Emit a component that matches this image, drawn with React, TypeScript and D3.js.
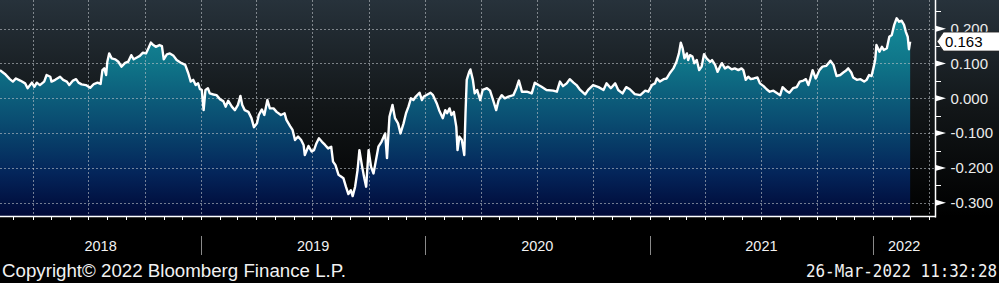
import React from "react";
import * as d3 from "d3";

// ---- data ----
const startDate = new Date(2018, 1, 7);
const endDate = new Date(2022, 3, 11, 12);

const dayOffsets = [0,8,16,21,26,33,41,45,52,56,60,65,72,76,82,84,90,98,103,109,113,119,124,128,133,140,147,153,159,164,167,170,173,175,178,182,188,193,198,204,209,214,218,224,228,233,238,242,246,250,254,260,264,267,272,277,283,288,296,302,307,311,315,319,323,326,329,332,335,339,342,348,353,359,364,368,372,378,383,388,392,395,399,405,410,414,419,422,427,431,436,440,446,451,458,464,467,473,477,481,486,491,495,497,503,508,512,516,520,525,530,535,540,543,547,552,556,560,564,568,572,575,579,583,586,590,594,597,601,605,609,611,617,622,628,631,635,640,644,649,653,658,662,666,670,674,678,684,688,691,697,702,706,712,716,722,726,729,733,736,740,744,746,749,753,757,759,761,765,767,771,774,778,783,787,794,799,804,809,813,818,823,829,837,842,846,851,859,867,872,878,883,891,902,908,913,918,924,929,935,940,946,954,959,967,976,984,989,996,1003,1008,1015,1021,1027,1035,1044,1052,1057,1063,1068,1071,1076,1082,1087,1092,1098,1103,1107,1110,1113,1116,1120,1122,1125,1129,1132,1136,1140,1144,1148,1152,1158,1161,1166,1170,1174,1177,1182,1187,1193,1198,1204,1209,1212,1216,1220,1224,1229,1235,1239,1245,1250,1255,1261,1266,1272,1276,1282,1287,1293,1299,1304,1310,1314,1318,1321,1325,1330,1336,1341,1347,1351,1354,1359,1364,1370,1375,1379,1383,1388,1391,1397,1403,1409,1413,1417,1421,1424,1427,1429,1434,1438,1441,1446,1450,1454,1458,1462,1466,1470,1474,1477,1480,1482,1484];

const values = [0.081,0.070,0.055,0.048,0.057,0.051,0.043,0.029,0.045,0.033,0.045,0.038,0.048,0.067,0.062,0.048,0.053,0.062,0.053,0.048,0.038,0.051,0.055,0.045,0.040,0.038,0.030,0.041,0.045,0.041,0.081,0.086,0.067,0.105,0.129,0.115,0.112,0.105,0.091,0.102,0.105,0.124,0.112,0.118,0.122,0.131,0.129,0.144,0.160,0.153,0.148,0.153,0.150,0.112,0.126,0.129,0.122,0.110,0.101,0.096,0.072,0.048,0.053,0.038,0.043,0.026,0.024,-0.034,0.024,0.029,0.014,0.011,0.009,-0.003,-0.008,-0.024,-0.007,-0.024,-0.034,-0.019,0.007,-0.019,-0.034,-0.039,-0.057,-0.083,-0.072,-0.048,-0.032,-0.048,-0.005,-0.029,-0.029,-0.039,-0.048,-0.043,-0.062,-0.080,-0.091,-0.120,-0.110,-0.120,-0.134,-0.163,-0.137,-0.153,-0.149,-0.129,-0.115,-0.125,-0.134,-0.144,-0.139,-0.182,-0.192,-0.220,-0.225,-0.230,-0.254,-0.275,-0.264,-0.281,-0.254,-0.206,-0.149,-0.192,-0.230,-0.254,-0.149,-0.197,-0.216,-0.197,-0.139,-0.125,-0.101,-0.172,-0.053,-0.019,-0.057,-0.072,-0.101,-0.072,-0.043,-0.024,0.000,-0.005,0.005,0.016,-0.005,0.005,0.011,0.016,0.009,-0.014,-0.034,-0.057,-0.034,-0.043,-0.029,-0.048,-0.039,-0.082,-0.149,-0.110,-0.120,-0.163,-0.043,0.053,0.076,0.083,0.053,0.014,0.024,-0.005,0.024,0.029,0.022,-0.005,-0.034,-0.005,0.009,0.000,0.005,0.009,0.029,0.051,0.019,0.019,0.014,0.045,0.038,0.033,0.024,0.022,0.019,0.048,0.035,0.043,0.055,0.045,0.038,0.024,0.011,0.024,0.038,0.032,0.024,0.043,0.029,0.043,0.024,0.014,0.032,0.026,0.012,0.009,0.022,0.019,0.038,0.043,0.057,0.048,0.055,0.057,0.072,0.086,0.105,0.129,0.160,0.144,0.115,0.129,0.110,0.124,0.120,0.101,0.110,0.081,0.091,0.127,0.115,0.105,0.110,0.096,0.076,0.091,0.101,0.086,0.091,0.083,0.086,0.081,0.086,0.081,0.053,0.062,0.055,0.057,0.060,0.043,0.035,0.026,0.019,0.022,0.016,0.009,0.032,0.022,0.016,0.029,0.032,0.048,0.051,0.055,0.038,0.055,0.081,0.057,0.081,0.091,0.093,0.101,0.108,0.096,0.064,0.067,0.074,0.079,0.086,0.074,0.060,0.053,0.055,0.048,0.053,0.067,0.064,0.086,0.110,0.153,0.134,0.148,0.139,0.144,0.177,0.182,0.211,0.230,0.220,0.223,0.211,0.191,0.177,0.141,0.163];

const yTicks = [-0.3, -0.2, -0.1, 0, 0.1, 0.2];
const yMinorTicks = [-0.25, -0.15, -0.05, 0.05, 0.15, 0.25];
const yearLabels = ["2018", "2019", "2020", "2021", "2022"];
const copyrightText = "Copyright\u00A9 2022 Bloomberg Finance L.P.";
const stampText = "26-Mar-2022 11:32:28";

export default function App() {
  const W = 999;
  const H = 283;
  const plotRight = 935;
  const plotBottom = 216.5;

  const x = d3.scaleTime().domain([startDate, endDate]).range([0, plotRight]);
  const y = d3.scaleLinear().domain([-0.3, 0.2]).range([202.7, 28.7]);

  const n = Math.min(dayOffsets.length, values.length);
  const data = d3.range(n).map((i) => ({
    date: d3.timeDay.offset(startDate, dayOffsets[i]),
    value: values[i],
  }));

  const area = d3
    .area<{ date: Date; value: number }>()
    .x((d) => x(d.date))
    .y0(plotBottom)
    .y1((d) => y(d.value));
  const line = d3
    .line<{ date: Date; value: number }>()
    .x((d) => x(d.date))
    .y((d) => y(d.value));

  const quarters = d3.timeMonth.every(3)!.range(startDate, endDate);
  const months = d3.timeMonth.range(startDate, endDate);
  const years = d3.timeYear.range(startDate, endDate);

  const last = data[data.length - 1];
  const cy = y(last.value);

  const yearSpans = yearLabels.map((lbl) => {
    const yr = +lbl;
    const a = Math.max(0, x(new Date(yr, 0, 1)));
    const b = Math.min(plotRight, x(new Date(yr + 1, 0, 1)));
    return { lbl, cx: (a + b) / 2 };
  });

  const labelFont = "'Liberation Sans', Arial, sans-serif";

  return (
    <div style={{ position: "fixed", left: 0, top: 0, width: W, height: H }}>
      <svg width={W} height={H} style={{ display: "block" }}>
        <defs>
          <linearGradient id="bg" gradientUnits="userSpaceOnUse" x1="0" y1="0" x2="0" y2={plotBottom}>
            <stop offset="0" stopColor="#27323b" />
            <stop offset="0.5" stopColor="#121618" />
            <stop offset="1" stopColor="#000000" />
          </linearGradient>
          <linearGradient id="fill" gradientUnits="userSpaceOnUse" x1="0" y1="0" x2="0" y2={plotBottom}>
            <stop offset="0" stopColor="#1794a0" />
            <stop offset="0.3" stopColor="#0f7488" />
            <stop offset="0.55" stopColor="#0a4e72" />
            <stop offset="0.8" stopColor="#04255a" />
            <stop offset="1" stopColor="#000836" />
          </linearGradient>
        </defs>

        <rect x={0} y={0} width={W} height={H} fill="#000" />
        <rect x={0} y={0} width={W} height={plotBottom} fill="url(#bg)" />

        <path d={area(data) || ""} fill="url(#fill)" />

        {/* grid */}
        <g stroke="rgba(190,195,200,0.6)" strokeWidth={1} strokeDasharray="2,2">
          {yTicks.map((t) => (
            <line key={"h" + t} x1={0} x2={plotRight} y1={Math.round(y(t)) + 0.5} y2={Math.round(y(t)) + 0.5} />
          ))}
          {quarters.map((q) => (
            <line key={"v" + +q} x1={Math.round(x(q)) + 0.5} x2={Math.round(x(q)) + 0.5} y1={0} y2={plotBottom} />
          ))}
        </g>

        <path d={line(data) || ""} fill="none" stroke="#ffffff" strokeWidth={2.4} strokeLinejoin="round" />

        {/* axes */}
        <line x1={plotRight + 0.5} x2={plotRight + 0.5} y1={0} y2={plotBottom + 1} stroke="#fff" strokeWidth={1.5} />
        <line x1={0} x2={plotRight + 1} y1={plotBottom} y2={plotBottom} stroke="#fff" strokeWidth={1.5} />
        {months.map((m) => (
          <line key={"m" + +m} x1={Math.round(x(m)) + 0.5} x2={Math.round(x(m)) + 0.5} y1={plotBottom} y2={plotBottom + 3.5} stroke="#fff" strokeWidth={1} />
        ))}

        {yMinorTicks.map((t) => (
          <line key={"mt" + t} x1={plotRight} x2={plotRight + 6} y1={Math.round(y(t)) + 0.5} y2={Math.round(y(t)) + 0.5} stroke="#fff" strokeWidth={1} />
        ))}
        {yTicks.map((t) => {
          const ty = y(t);
          return (
            <g key={"t" + t}>
              <path d={`M${plotRight},${ty - 3.2}L${plotRight + 11},${ty}L${plotRight},${ty + 3.2}Z`} fill="#fff" />
              <text x={950.5} y={ty + 5.3} fill="#ececec" fontFamily={labelFont} fontSize={15}>
                {d3.format(".3f")(t).replace("\u2212", "-")}
              </text>
            </g>
          );
        })}

        {/* last value label */}
        <path
          d={`M${plotRight + 2},${cy}L${plotRight + 8.5},${cy - 9.5}L${W + 2},${cy - 9.5}L${W + 2},${cy + 9.5}L${plotRight + 8.5},${cy + 9.5}Z`}
          fill="#ffffff"
          stroke="#222"
          strokeWidth={0.8}
        />
        <text x={945} y={cy + 5.5} fill="#000" fontFamily={labelFont} fontSize={15}>
          {d3.format(".3f")(last.value)}
        </text>

        {/* year separators & labels */}
        {years
          .filter((yv) => x(yv) > 1)
          .map((yv) => (
            <line key={"ys" + +yv} x1={Math.round(x(yv)) + 0.5} x2={Math.round(x(yv)) + 0.5} y1={236} y2={255} stroke="#8a8a8a" strokeWidth={1} />
          ))}
        {yearSpans.map((s) => (
          <text key={s.lbl} x={s.cx} y={251} fill="#f2f2f2" fontFamily={labelFont} fontSize={14.5} textAnchor="middle">
            {s.lbl}
          </text>
        ))}

        <text x={2} y={276.5} fill="#f2f2f2" fontFamily={labelFont} fontSize={17.5} textLength={344} lengthAdjust="spacingAndGlyphs">
          {copyrightText}
        </text>
        <text x={997} y={276.5} fill="#f2f2f2" fontFamily="'DejaVu Sans Mono', monospace" fontSize={17} textAnchor="end" textLength={191} lengthAdjust="spacingAndGlyphs">
          {stampText}
        </text>
      </svg>
    </div>
  );
}
